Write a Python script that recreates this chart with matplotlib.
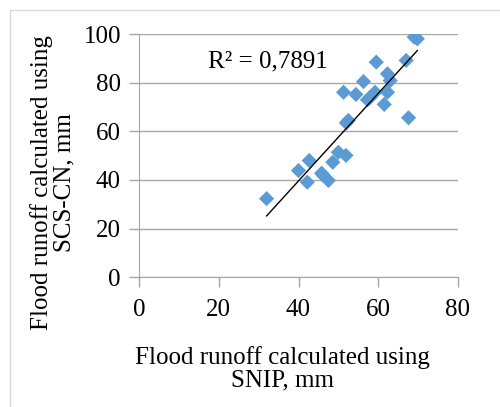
import numpy as np
import matplotlib
matplotlib.use('Agg')
import matplotlib.pyplot as plt
from matplotlib.patches import Rectangle

# Flood runoff, mm: SNIP (x) vs SCS-CN (y)
snip = [32.0, 40.0, 42.7, 42.2, 45.8, 47.5, 46.2, 48.6, 50.0, 51.9, 52.5, 52.0,
        51.3, 54.4, 56.3, 57.3, 59.2, 59.5, 61.5, 62.3, 62.3, 63.0, 67.6, 67.0,
        69.0, 69.8, 58.0]
scs_cn = [32.3, 43.9, 48.0, 39.1, 42.8, 39.8, 41.9, 47.3, 51.4, 50.1, 64.5, 63.5,
          76.1, 75.2, 80.5, 73.0, 76.1, 88.5, 71.1, 76.1, 83.7, 80.9, 65.6, 89.2,
          98.8, 98.1, 74.0]
r2_label = 'R² = 0,7891'

x = np.array(snip)
y = np.array(scs_cn)

plt.rcParams['font.family'] = ['Liberation Serif', 'DejaVu Serif']

fig = plt.figure(figsize=(5.0, 4.07), dpi=100)
ax = fig.add_axes([0.278, 0.319, 0.638, 0.597])

# Excel-style chart border (cropped on the right and bottom)
fig.patches.append(Rectangle((0.02, -0.1), 1.1, 1.075, transform=fig.transFigure,
                             fill=False, edgecolor='#d9d9d9', linewidth=1))

ax.scatter(x, y, marker='D', s=60, color='#5b9bd5', edgecolors='none', zorder=3)

# Linear trendline over the data range
k, b = np.polyfit(x, y, 1)
xx = np.array([x.min(), x.max()])
ax.plot(xx, k * xx + b, color='black', linewidth=1, zorder=4)

ax.text(17.3, 93.5, r2_label, fontsize=18, va='top', ha='left')

ax.set_xlim(0, 80)
ax.set_ylim(0, 100)
ax.set_xticks(range(0, 81, 20))
ax.set_yticks(range(0, 101, 20))
ax.grid(axis='y', color='#a6a6a6', linewidth=1)
ax.set_axisbelow(True)

for s in ['top', 'right']:
    ax.spines[s].set_visible(False)
for s in ['left', 'bottom']:
    ax.spines[s].set_color('#a6a6a6')
ax.tick_params(axis='both', colors='#a6a6a6', labelcolor='black', labelsize=18,
               length=7, width=1, pad=6)
ax.tick_params(axis='x', pad=9)

ax.set_xlabel('Flood runoff calculated using\nSNIP, mm', fontsize=18, linespacing=1.0)
ax.set_ylabel('Flood runoff calculated using\nSCS-CN, mm', fontsize=18, linespacing=1.0)
ax.xaxis.set_label_coords(0.45, -0.285)
ax.yaxis.set_label_coords(-0.2, 0.39)

fig.savefig('out.png', dpi=100)
